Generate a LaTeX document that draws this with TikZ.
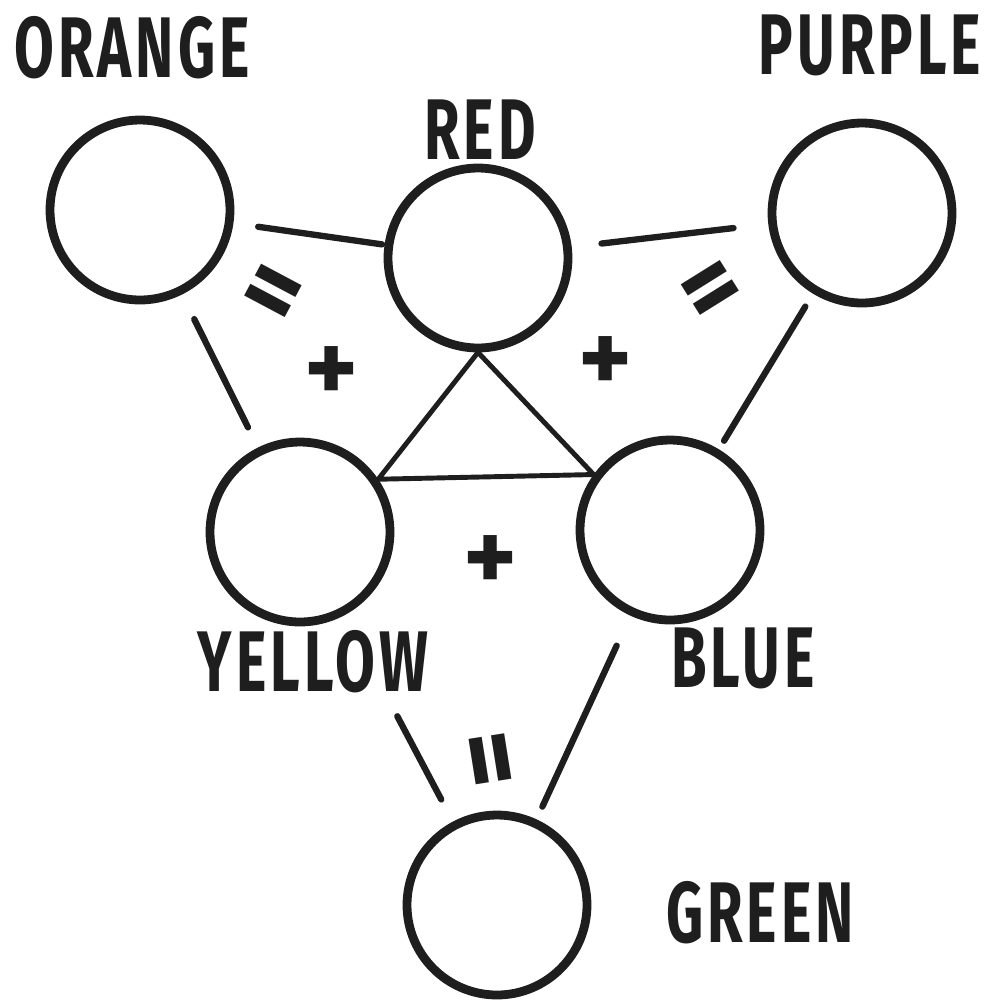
\documentclass[tikz,border=0pt]{standalone}
\usepackage{fontspec}
\newfontfamily\hand{Fira Sans}[LetterSpace=7]
\newfontfamily\signfont{Fira Sans}
\definecolor{ink}{HTML}{1E1E1E}
\begin{document}
\begin{tikzpicture}[x=0.02cm,y=-0.02cm,
  circ/.style={circle, draw=ink, line width=5pt, minimum size=3.6cm, inner sep=0pt},
  conn/.style={draw=ink, line width=3.6pt, line cap=round},
  tri/.style={draw=ink, line width=2.8pt, line join=round},
  lab/.style={text=ink, font=\hand\bfseries\fontsize{49}{50}\selectfont, transform shape, xscale=0.67, inner sep=0pt},
  sign/.style={text=ink, font=\signfont\bfseries\fontsize{58}{58}\selectfont, inner sep=0pt, text height=29.8pt, text depth=-5.8pt},
  eqsign/.style={text=ink, font=\signfont\bfseries\fontsize{62}{62}\selectfont, inner sep=0pt, text height=27pt, text depth=-9pt}]
\fill[white] (0,0) rectangle (1004,1002);
\useasboundingbox (0,0) rectangle (1004,1002);
% circles
\node[circ] (orange) at (140,210) {};
\node[circ] (red)    at (478,258) {};
\node[circ] (purple) at (862,213) {};
\node[circ] (yellow) at (300,532) {};
\node[circ] (blue)   at (670,530) {};
\node[circ] (green)  at (497,905) {};
% labels
\node[lab] (lorange) at (132,48)  {ORANGE};
\node[lab] (lpurple) at (870,45)  {PURPLE};
\node[lab] (lred)    at (480,130) {RED};
\node[lab] (lyellow) at (313,662) {YELLOW};
\node[lab] (lblue)   at (743,658) {BLUE};
\node[lab] (lgreen)  at (760,913) {GREEN};
% connectors
\draw[conn, shorten <=0.5cm, shorten >=0.05cm] (orange) -- (red);
\draw[conn, shorten <=0.6cm, shorten >=0.7cm] (red) -- (purple);
\draw[conn, shorten <=0.55cm, shorten >=0.45cm] (orange) -- (yellow);
\draw[conn, shorten <=0.3cm, shorten >=0.2cm] (purple) -- (blue);
\draw[conn, shorten <=2.28cm, shorten >=0.5cm] (yellow) -- (green);
\draw[conn, shorten <=0.66cm, shorten >=0.28cm] (blue) -- (green);
% triangle
\draw[tri] (red.south) -- (yellow.34) -- (blue.144) -- cycle;
% signs
\node[eqsign, rotate=-28] (eq1) at (268,302) {=};
\node[eqsign, rotate=32]  (eq2) at (717,298) {=};
\node[eqsign, rotate=99]  (eq3) at (503,757) {=};
\node[sign] (pl1) at (332,376) {+};
\node[sign] (pl2) at (606,366) {+};
\node[sign] (pl3) at (491,565) {+};
\end{tikzpicture}
\end{document}
